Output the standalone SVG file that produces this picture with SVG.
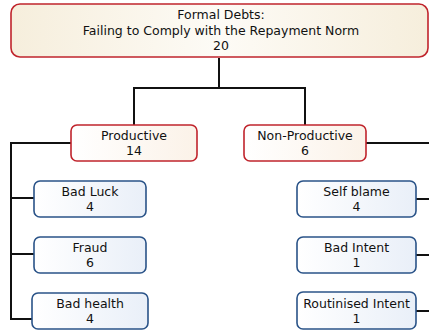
<svg xmlns="http://www.w3.org/2000/svg" width="429" height="331" viewBox="0 0 429 331">
<style>
.t{font-family:"DejaVu Sans",Verdana,sans-serif;font-size:12.5px;fill:#111;text-anchor:middle}
.red{fill:url(#gr);stroke:#c0242c;stroke-width:1.6}
.top{fill:url(#gt);stroke:#c0242c;stroke-width:1.6}
.blue{fill:url(#gb);stroke:#2a5388;stroke-width:1.6}
.c{fill:none;stroke:#111;stroke-width:2}
</style>
<defs>
<linearGradient id="gt" x1="0" y1="0" x2="1" y2="0"><stop offset="0" stop-color="#f6eedc"/><stop offset="0.5" stop-color="#fdfbf6"/><stop offset="1" stop-color="#f6eedc"/></linearGradient>
<linearGradient id="gr" x1="0" y1="0" x2="1" y2="0"><stop offset="0" stop-color="#ffffff"/><stop offset="1" stop-color="#fbf2e8"/></linearGradient>
<linearGradient id="gb" x1="0" y1="0" x2="1" y2="0"><stop offset="0" stop-color="#ffffff"/><stop offset="1" stop-color="#e9eff8"/></linearGradient>
</defs>
<g id="connectors">
<path class="c" d="M219,58 V88 M134,88 H305 M134,87 V125 M305,87 V125"/>
<path class="c" d="M71,143 H11 V319 H32 M11,198 H34 M11,254 H34"/>
<path class="c" d="M366,143 H429 M416,199 H429 M416,255 H429 M416,311 H429"/>
</g>
<g id="root"><rect class="top" x="11" y="4" width="417" height="53" rx="9"/>
<text class="t" x="221" y="19">Formal Debts:</text><text class="t" x="221" y="35">Failing to Comply with the Repayment Norm</text><text class="t" x="221" y="50">20</text></g>
<g id="productive"><rect class="red" x="71" y="125" width="126" height="36" rx="6"/>
<text class="t" x="134" y="140">Productive</text><text class="t" x="134" y="155">14</text></g>
<g id="nonproductive"><rect class="red" x="244" y="125" width="122" height="36" rx="6"/>
<text class="t" x="305" y="140">Non-Productive</text><text class="t" x="305" y="155">6</text></g>
<g id="badluck"><rect class="blue" x="34" y="181" width="112" height="36" rx="6"/>
<text class="t" x="90" y="196">Bad Luck</text><text class="t" x="90" y="211">4</text></g>
<g id="fraud"><rect class="blue" x="34" y="237" width="112" height="36" rx="6"/>
<text class="t" x="90" y="252">Fraud</text><text class="t" x="90" y="267">6</text></g>
<g id="badhealth"><rect class="blue" x="32" y="293" width="116" height="36" rx="6"/>
<text class="t" x="90" y="308">Bad health</text><text class="t" x="90" y="323">4</text></g>
<g id="selfblame"><rect class="blue" x="297" y="181" width="119" height="36" rx="6"/>
<text class="t" x="356.5" y="196">Self blame</text><text class="t" x="356.5" y="211">4</text></g>
<g id="badintent"><rect class="blue" x="297" y="237" width="119" height="36" rx="6"/>
<text class="t" x="356.5" y="252">Bad Intent</text><text class="t" x="356.5" y="267">1</text></g>
<g id="routinised"><rect class="blue" x="297" y="292" width="119" height="37" rx="6"/>
<text class="t" x="356.5" y="308">Routinised Intent</text><text class="t" x="356.5" y="323">1</text></g>
</svg>
